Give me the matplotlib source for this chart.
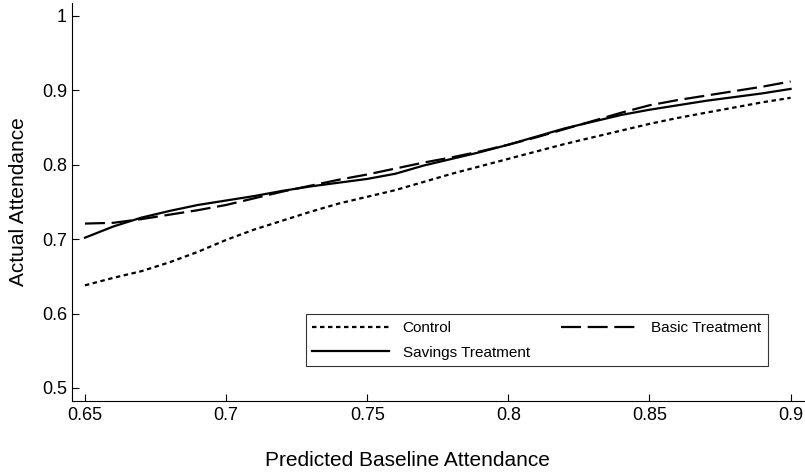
import matplotlib
matplotlib.use("Agg")
import matplotlib.pyplot as plt

plt.rcParams["font.family"] = ["Liberation Sans", "DejaVu Sans"]

# predicted baseline attendance (x) and smoothed actual attendance per group
baseline = [0.65, 0.66, 0.67, 0.68, 0.69, 0.70, 0.71, 0.72, 0.73, 0.74, 0.75, 0.76, 0.77,
            0.78, 0.79, 0.80, 0.81, 0.82, 0.83, 0.84, 0.85, 0.86, 0.87, 0.88, 0.89, 0.90]
control = [0.638, 0.648, 0.657, 0.669, 0.683, 0.699, 0.713, 0.725, 0.737, 0.748, 0.757, 0.766, 0.777,
           0.788, 0.798, 0.808, 0.818, 0.828, 0.837, 0.846, 0.855, 0.863, 0.870, 0.877, 0.884, 0.890]
savings = [0.702, 0.717, 0.729, 0.738, 0.746, 0.752, 0.758, 0.765, 0.771, 0.776, 0.781, 0.788, 0.799,
           0.808, 0.817, 0.827, 0.838, 0.849, 0.858, 0.867, 0.874, 0.880, 0.886, 0.891, 0.896, 0.902]
basic = [0.721, 0.722, 0.727, 0.733, 0.739, 0.746, 0.755, 0.764, 0.772, 0.780, 0.787, 0.795, 0.803,
         0.810, 0.818, 0.827, 0.837, 0.848, 0.859, 0.870, 0.880, 0.887, 0.893, 0.899, 0.905, 0.912]

xticks = [0.65, 0.70, 0.75, 0.80, 0.85, 0.90]
xtick_labels = ["0.65", "0.7", "0.75", "0.8", "0.85", "0.9"]
yticks = [0.5, 0.6, 0.7, 0.8, 0.9, 1.0]
ytick_labels = ["0.5", "0.6", "0.7", "0.8", "0.9", "1"]

fig = plt.figure(figsize=(8.05, 4.73), dpi=100)
ax = fig.add_axes([0.0894, 0.1522, 0.9106, 0.8415])

lw = 1.6
l_ctrl, = ax.plot(baseline, control, color="black", lw=lw, dashes=(2, 1.6), label="Control")
l_sav, = ax.plot(baseline, savings, color="black", lw=lw, label="Savings Treatment")
l_bas, = ax.plot(baseline, basic, color="black", lw=lw, dashes=(9, 3), label="Basic Treatment")

ax.set_xlim(0.6454, 0.9051)
ax.set_ylim(0.4825, 1.0175)
ax.set_xticks(xticks)
ax.set_xticklabels(xtick_labels)
ax.set_yticks(yticks)
ax.set_yticklabels(ytick_labels)
ax.tick_params(axis="both", direction="in", length=5, width=0.8, labelsize=13)
ax.tick_params(axis="x", pad=4)
ax.tick_params(axis="y", pad=3.5)

for side in ("top", "right"):
    ax.spines[side].set_visible(False)
for side in ("left", "bottom"):
    ax.spines[side].set_linewidth(0.8)

# label sits left of the axes centre in the original
ax.set_xlabel("Predicted Baseline Attendance", fontsize=15, labelpad=20, x=0.457)
ax.set_ylabel("Actual Attendance", fontsize=15, labelpad=10)

# legend box spans roughly px 306..768 wide, 311..366 tall
leg = fig.legend(handles=[l_ctrl, l_sav, l_bas], ncol=2, mode="expand",
                 bbox_to_anchor=(306 / 805, 1 - 366 / 473, 462 / 805, 55 / 473),
                 loc="lower left", fontsize=11, handlelength=5.0, handletextpad=0.9,
                 frameon=True, fancybox=False, edgecolor="black", borderaxespad=0,
                 borderpad=0.42, labelspacing=0.7)
leg.get_frame().set_linewidth(0.8)

fig.savefig("out.png", dpi=100)
